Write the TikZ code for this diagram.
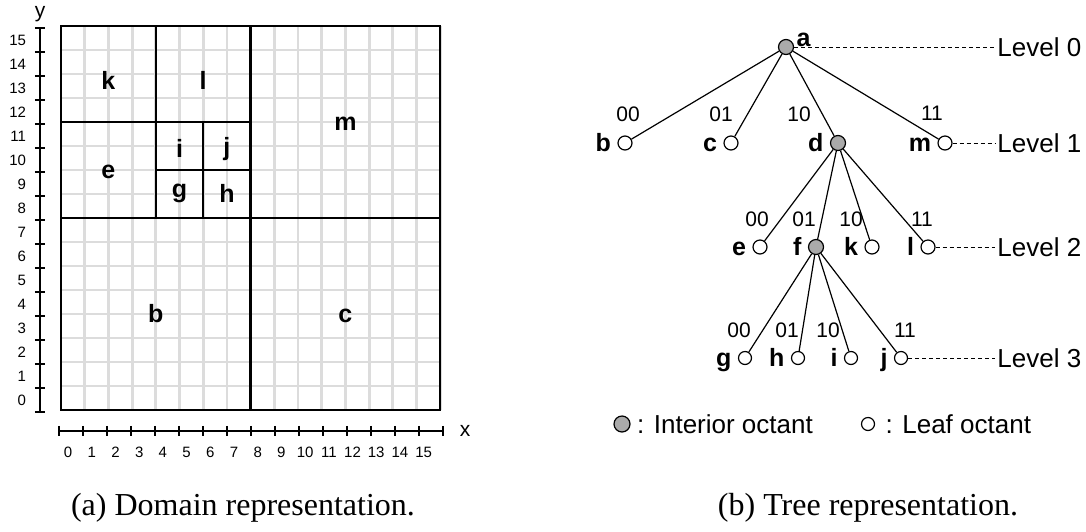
\documentclass[tikz,border=0pt]{standalone}
\usepackage{fontspec}
\setmainfont{Liberation Serif}
\setsansfont{Liberation Sans}
\usepackage{tikz}
\usetikzlibrary{positioning}
\definecolor{gridgray}{HTML}{DCDCDC}
\definecolor{octgray}{HTML}{AAAAAA}
\tikzset{
  gridline/.style={draw=gridgray,line width=1.4pt},
  domainline/.style={line width=1.2pt},
  axisline/.style={line width=1pt},
  axisnum/.style={font=\sffamily\fontsize{7.5}{9}\selectfont,inner sep=0pt},
  axisname/.style={font=\sffamily\fontsize{10.5}{12}\selectfont,inner sep=0pt},
  regionlbl/.style={font=\sffamily\bfseries\fontsize{12.5}{14}\selectfont,inner sep=0pt,text height=.72em,text depth=.21em,yshift=-1.5pt},
  inode/.style={circle,draw=black,fill=octgray,line width=.6pt,minimum size=7.5pt,inner sep=0pt},
  lnode/.style={circle,draw=black,fill=white,line width=.6pt,minimum size=7pt,inner sep=0pt},
  treeline/.style={line width=.6pt},
  levelline/.style={line width=.5pt,dash pattern=on 2pt off 1.5pt},
  bitlbl/.style={font=\sffamily\fontsize{10.5}{12}\selectfont,inner sep=0pt},
  octlbl/.style={font=\sffamily\bfseries\fontsize{12.5}{14}\selectfont,inner sep=0pt,text height=.72em,text depth=.21em},
  leveltext/.style={font=\sffamily\fontsize{13}{15}\selectfont,inner sep=1pt,anchor=west},
  legtext/.style={font=\sffamily\fontsize{13}{15}\selectfont,inner sep=1pt},
  captext/.style={font=\fontsize{16}{18}\selectfont,inner sep=0pt},
}

\begin{document}
\begin{tikzpicture}[x=0.5pt,y=-0.5pt,node distance=3pt]
			\useasboundingbox (0,0) rectangle (1086,531);
			% (a) domain
			\begin{scope}[shift={(61,410)},x=11.85pt,y=12pt]
				\draw[gridline,step=1] (0,0) grid (16,16);
				\draw[domainline] (0,0) rectangle (16,16);
				\draw[domainline] (8,0) -- (8,16) (0,8) -- (16,8);
				\draw[domainline] (4,8) -- (4,16) (0,12) -- (8,12);
				\draw[domainline] (6,8) -- (6,12) (4,10) -- (8,10);
				\foreach \o/\x/\y in {k/2/13.7, l/6/13.7, m/12/12, e/2/10, i/5/10.85, j/7/10.95, g/5/9.2, h/7/9, b/4/4, c/12/4}
					\node[regionlbl] (r\o) at (\x,\y) {\o};
				\draw[axisline] (-0.886,-0.1) -- (-0.886,15.9);
				\foreach \k in {0,...,16}
					\draw[axisline] (-1.1,{\k-0.1}) -- (-0.67,{\k-0.1});
				\foreach \k in {0,...,15}
					\node[axisnum,anchor=east] (ylab\k) at (-1.46,{\k+0.4}) {\k};
				\node[axisname] (yname) at (-0.886,16.5) {y};
				\draw[axisline] (-0.08,-0.875) -- (16.12,-0.875);
				\foreach \k in {0,...,16}
					\draw[axisline] ({-0.08+1.0125*\k},-0.66) -- ({-0.08+1.0125*\k},-1.09);
				\foreach \k in {0,...,15}
					\node[axisnum] (xlab\k) at ({0.3+\k},-1.75) {\k};
				\node[axisname] (xname) at (17.05,-0.875) {x};
			\end{scope}
			% (b) tree
			\node[inode] (na) at (786,47) {};
			\node[lnode] (nb) at (625,143) {};
			\node[lnode] (nc) at (731,143) {};
			\node[inode] (nd) at (838,143) {};
			\node[lnode] (nm) at (945,143) {};
			\node[lnode] (ne) at (760,247) {};
			\node[inode] (nf) at (816,247) {};
			\node[lnode] (nk) at (872,247) {};
			\node[lnode] (nl) at (928,247) {};
			\node[lnode,minimum size=6.5pt] (ng) at (745,358) {};
			\node[lnode,minimum size=6.5pt] (nh) at (798,358) {};
			\node[lnode,minimum size=6.5pt] (ni) at (851,358) {};
			\node[lnode,minimum size=6.5pt] (nj) at (901,358) {};
			\foreach \p/\c in {a/b,a/c,a/d,a/m,d/e,d/f,d/k,d/l,f/g,f/h,f/i,f/j}
				\draw[treeline] (n\p) -- (n\c);
			\node[octlbl,right=1pt of na,yshift=3pt] (ta) {a};
			\foreach \o in {b,c,d,m,e,f,k,l,g,h,i,j}
				\node[octlbl,left=3pt of n\o,yshift=-1.5pt] (t\o) {\o};
			\foreach \t/\x/\y [count=\n] in {00/628/114, 01/721/114, 10/799/114, 11/932/113,
					00/757/219, 01/804/219, 10/851/219, 11/922/219,
					00/739/330, 01/787/330, 10/828/330, 11/905/330}
				\node[bitlbl] (bit\n) at (\x,\y) {\t};
			\node[leveltext] (lv0) at (995,47) {Level 0};
			\node[leveltext] (lv1) at (995,143) {Level 1};
			\node[leveltext] (lv2) at (995,247) {Level 2};
			\node[leveltext] (lv3) at (995,358) {Level 3};
			\draw[levelline] (na) -- (lv0);
			\draw[levelline] (nm) -- (lv1);
			\draw[levelline] (nl) -- (lv2);
			\draw[levelline] (nj) -- (lv3);
			\node[inode,minimum size=8pt] (lgi) at (622,424) {};
			\node[legtext,right=2pt of lgi] (lgit) {: Interior octant};
			\node[lnode,minimum size=6.5pt] (lgl) at (868,424) {};
			\node[legtext,right=4pt of lgl] (lglt) {: Leaf octant};
			% captions
			\node[captext] (capa) at (243,508) {(a) Domain representation.};
			\node[captext] (capb) at (868,508) {(b) Tree representation.};
		\end{tikzpicture}
\end{document}
